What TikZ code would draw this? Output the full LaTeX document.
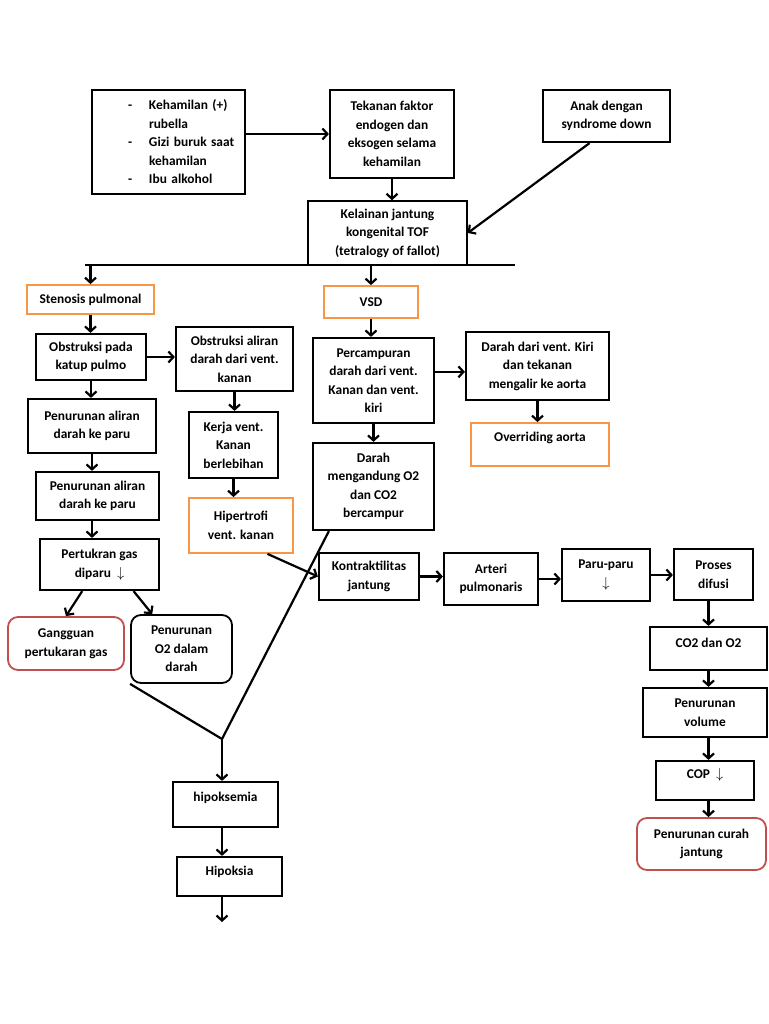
\documentclass[tikz,border=0pt]{standalone}
\usepackage{fontspec}
\setmainfont{Carlito}
\usetikzlibrary{arrows.meta}
\definecolor{orangeline}{HTML}{F79646}
\definecolor{redline}{HTML}{C0504D}
\newcommand{\riskdash}{\hspace*{34pt}\makebox[21pt][l]{-}}
\newcommand{\riskpad}{\hspace*{55pt}}
\newcommand{\lift}[2]{\raisebox{#1}[\height][\depth]{#2}}
\tikzset{
  box/.style={draw, line width=2.2pt, align=center, inner sep=1pt,
    font=\bfseries\fontsize{13.4}{18.5}\selectfont},
  sz/.style 2 args={minimum width=#1pt, minimum height=#2pt},
  obox/.style={box, draw=orangeline, line width=1.8pt},
  rbox/.style={box, draw=redline, line width=1.8pt, rounded corners=10pt},
  kbox/.style={box, line width=1.8pt, rounded corners=10pt},
  thinbox/.style={box, line width=1.5pt},
  arw/.style={line width=2.2pt, -{Straight Barb[length=5pt,width=11pt]}},
}
\begin{document}
\begin{tikzpicture}[x=1pt,y=-1pt]
  \useasboundingbox (0,0) rectangle (768,1024);
  \draw
    (168.5,142) node[box, sz={153}{104}, align=left, text width=149pt] (risk)
      {\riskdash Kehamilan (+)\\\riskpad rubella\\\riskdash Gizi buruk saat\\\riskpad kehamilan\\\riskdash Ibu alkohol}
    (392,134) node[box, sz={124}{88}] (tekanan) {Tekanan faktor\\endogen dan\\eksogen selama\\kehamilan}
    (606.5,116) node[box, sz={127}{52}] (anak) {Anak dengan\\syndrome down}
    (387.5,233) node[thinbox, sz={159}{64}] (kelainan) {Kelainan jantung\\kongenital TOF\\(tetralogy of fallot)}
    (90.5,299.5) node[obox, sz={127}{29}] (stenosis) {Stenosis pulmonal}
    (371,302) node[obox, sz={94}{32}] (vsd) {VSD}
    (91,357) node[box, sz={110}{46}] (obspada) {Obstruksi pada\\katup pulmo}
    (234.5,359) node[box, sz={117}{64}] (obsaliran) {Obstruksi aliran\\darah dari vent.\\kanan}
    (92,426) node[box, sz={128}{54}] (turun1) {Penurunan aliran\\darah ke paru}
    (97.5,496) node[box, sz={123}{48}] (turun2) {Penurunan aliran\\darah ke paru}
    (99.5,564.5) node[box, sz={119}{51}] (tukar) {Pertukran gas\\diparu\ \ $\downarrow$}
    (66,643.5) node[rbox, sz={116}{53}] (gangguan) {Gangguan\\pertukaran gas}
    (181.5,649) node[kbox, sz={101}{68}] (turunO2) {Penurunan\\O2 dalam\\darah}
    (233.5,445) node[box, sz={89}{66}] (kerja) {Kerja vent.\\Kanan\\berlebihan}
    (241,525.5) node[obox, sz={104}{55}] (hiper) {Hipertrofi\\vent. kanan}
    (373.5,380.5) node[box, sz={121}{85}] (campur) {Percampuran\\darah dari vent.\\Kanan dan vent.\\kiri}
    (537.5,366) node[box, sz={143}{68}] (kiri) {Darah dari vent. Kiri\\dan tekanan\\mengalir ke aorta}
    (540,444.5) node[obox, sz={138}{43}] (overriding) {\lift{7pt}{Overriding aorta}}
    (373.5,486.5) node[box, sz={121}{87}] (mengandung) {Darah\\mengandung O2\\dan CO2\\bercampur}
    (369,576.5) node[box, sz={100}{47}] (kontrak) {Kontraktilitas\\jantung}
    (491,579) node[box, sz={94}{52}] (arteri) {Arteri\\pulmonaris}
    (606,575) node[box, sz={88}{52}] (paru) {Paru-paru\\$\downarrow$}
    (713.5,574.5) node[box, sz={79}{51}] (proses) {Proses\\difusi}
    (708.5,648.5) node[box, sz={117}{43}] (co2) {\lift{6pt}{CO2 dan O2}}
    (705,712.5) node[box, sz={124}{49}] (volume) {Penurunan\\volume}
    (705,780.5) node[box, sz={98}{39}] (cop) {\lift{6pt}{COP\ \ $\downarrow$}}
    (701.5,844) node[rbox, sz={129}{52}] (curah) {Penurunan curah\\jantung}
    (225.5,804.5) node[box, sz={105}{45}] (hipoksemia) {\lift{7pt}{hipoksemia}}
    (229.5,876.5) node[box, sz={105}{39}] (hipoksia) {\lift{5pt}{Hipoksia}};
  \coordinate (barl) at (85,265);
  \coordinate (barr) at (515,265);
  \coordinate (meet) at (222,739);
  \coordinate (tail) at (222,922);
  \begin{scope}[line width=2.2pt]
    \draw (barl) -- (barr);
    \draw (turunO2.south west) -- (meet);
    \draw (mengandung.225) -- (meet);
  \end{scope}
  \begin{scope}[arw]
    \draw (risk.east |- tekanan.west) -- (tekanan.west);
    \draw (tekanan.south) -- (tekanan.south |- kelainan.north);
    \draw (anak.238) -- (kelainan.east);
    \draw (stenosis.north |- barl) -- (stenosis.north);
    \draw (vsd.north |- barl) -- (vsd.north);
    \draw (stenosis.south) -- (stenosis.south |- obspada.north);
    \draw (obspada.east) -- (obspada.east -| obsaliran.west);
    \draw (obspada.south) -- (obspada.south |- turun1.north);
    \draw (turun1.south) -- (turun1.south |- turun2.north);
    \draw (turun1 |- turun2.south) -- (turun1 |- tukar.north);
    \draw (tukar.237) -- (gangguan.north);
    \draw (tukar.322) -- (turunO2.130);
    \draw (obsaliran.south) -- (obsaliran.south |- kerja.north);
    \draw (kerja.south) -- (kerja.south |- hiper.north);
    \draw (hiper.313) -- (kontrak.west);
    \draw (vsd.south) -- (vsd.south |- campur.north);
    \draw (campur.8) -- (campur.8 -| kiri.west);
    \draw (kiri.south) -- (kiri.south |- overriding.north);
    \draw (campur.south) -- (mengandung.north);
    \draw (kontrak.east) -- (kontrak.east -| arteri.west);
    \draw (arteri.east) -- (arteri.east -| paru.west);
    \draw (paru.east) -- (paru.east -| proses.west);
    \draw (co2 |- proses.south) -- (co2.north);
    \draw (co2.south) -- (co2.south |- volume.north);
    \draw (co2 |- volume.south) -- (co2 |- cop.north);
    \draw (co2 |- cop.south) -- (co2 |- curah.north);
    \draw (meet) -- (meet |- hipoksemia.north);
    \draw (meet |- hipoksemia.south) -- (meet |- hipoksia.north);
    \draw (meet |- hipoksia.south) -- (tail);
  \end{scope}
\end{tikzpicture}
\end{document}
